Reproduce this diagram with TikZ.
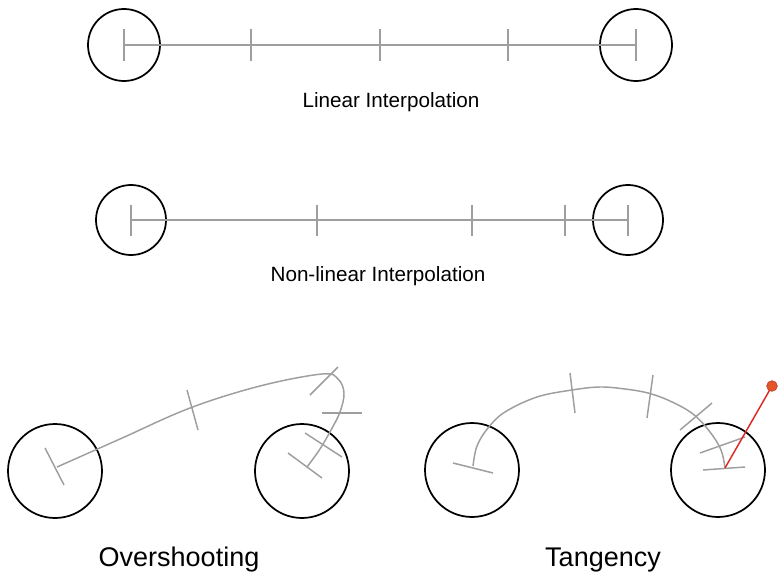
\documentclass[tikz,border=0pt]{standalone}
\usepackage{fontspec}
\setmainfont{Liberation Sans}
\definecolor{dotfill}{RGB}{226,86,40}
\definecolor{dotedge}{RGB}{190,50,30}
\definecolor{redln}{RGB}{222,40,35}
\begin{document}
\begin{tikzpicture}[x=0.75pt,y=-0.75pt,
  ring/.style={circle,draw=black,line width=1.3pt,inner sep=0pt,outer sep=0pt},
  path/.style={draw=black!38,line width=1.1pt},
  tick/.style={draw=black!38,line width=1.1pt},
  small/.style={font=\fontsize{15.5pt}{18pt}\selectfont,inner sep=0pt},
  big/.style={font=\fontsize{20.25pt}{24pt}\selectfont,inner sep=0pt},
  redline/.style={draw=redln,line width=1.1pt}]
\useasboundingbox (0,0) rectangle (778,578);
% ---------- Linear interpolation ----------
\node[ring,minimum size=54pt] (a1) at (124,45) {};
\node[ring,minimum size=54pt] (b1) at (636,45) {};
\draw[path] (a1.center) -- (b1.center);
\foreach \x in {124,251,380,508,636} \draw[tick] (\x,29) -- (\x,61);
\node[small] (t1) at (391,102) {Linear Interpolation};
% ---------- Non-linear interpolation ----------
\node[ring,minimum size=52.5pt] (a2) at (131,220) {};
\node[ring,minimum size=52.5pt] (b2) at (628,220) {};
\draw[path] (a2.center) -- (b2.center);
\foreach \x in {131,317,472,565,628} \draw[tick] (\x,205) -- (\x,236);
\node[small] (t2) at (378,276) {Non-linear Interpolation};
% ---------- Overshooting ----------
\node[ring,minimum size=70.5pt] (a3) at (55,471) {};
\node[ring,minimum size=70.5pt] (b3) at (302,471) {};
\coordinate (s3) at (57,467);
\coordinate (e3) at (307,467);
\draw[path] plot[smooth,tension=0.6] coordinates {(s3) (120,439) (190,408) (260,386) (322,374) (338,379) (344,393) (340,412) (331,430) (320,449) (e3)};
\draw[tick] (45,448) -- (64,485);
\draw[tick] (187,390) -- (198,430);
\draw[tick] (338,367) -- (310,395);
\draw[tick] (322,413) -- (362,413);
\draw[tick] (305,433) -- (342,457);
\draw[tick] (288,453) -- (322,478);
\node[big] (t3) at (179,560) {Overshooting};
% ---------- Tangency ----------
\node[ring,minimum size=70.5pt] (a4) at (472,470) {};
\node[ring,minimum size=70.5pt] (b4) at (718,470) {};
\coordinate (s4) at (473,466);
\coordinate (e4) at (725,468);
\draw[path] plot[smooth,tension=0.6] coordinates {(s4) (477,446) (488,428) (505,412) (537,397) (572,390) (600,387) (625,389) (648,393) (670,401) (693,414) (710,432) (721,450) (e4)};
\draw[tick] (453,463) -- (493,473);
\draw[tick] (570,373) -- (575,413);
\draw[tick] (653,375) -- (647,418);
\draw[tick] (712,403) -- (680,430);
\draw[tick] (745,437) -- (700,453);
\draw[tick] (703,470) -- (745,467);
\coordinate (h4) at (772,386);
\draw[redline] (e4) -- (h4);
\node[circle,fill=dotfill,draw=dotedge,line width=0.4pt,minimum size=8pt,inner sep=0pt] (k4) at (h4) {};
\node[big] (t4) at (603,560) {Tangency};
\end{tikzpicture}
\end{document}
